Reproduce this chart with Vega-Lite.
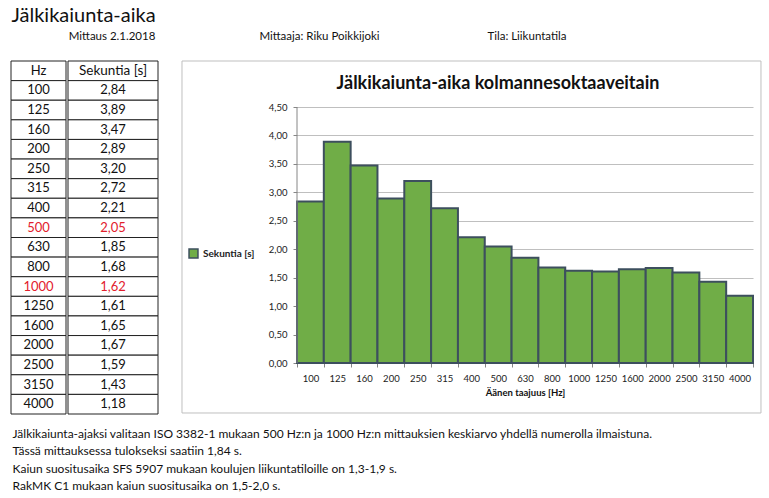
{
  "$schema": "https://vega.github.io/schema/vega-lite/v6.json",
  "padding": {"left": 10, "top": 6, "right": 5, "bottom": 2},
  "background": "white",
  "title": {"text": "Jälkikaiunta-aika", "anchor": "start", "fontSize": 20, "fontWeight": "normal", "color": "#111", "offset": 2, "dx": 1},
  "datasets": {
    "rt": [
      {"f": 100, "s": 2.84}, {"f": 125, "s": 3.89}, {"f": 160, "s": 3.47}, {"f": 200, "s": 2.89},
      {"f": 250, "s": 3.20}, {"f": 315, "s": 2.72}, {"f": 400, "s": 2.21}, {"f": 500, "s": 2.05},
      {"f": 630, "s": 1.85}, {"f": 800, "s": 1.68}, {"f": 1000, "s": 1.62}, {"f": 1250, "s": 1.61},
      {"f": 1600, "s": 1.65}, {"f": 2000, "s": 1.67}, {"f": 2500, "s": 1.59}, {"f": 3150, "s": 1.43},
      {"f": 4000, "s": 1.18}
    ]
  },
  "spacing": 14,
  "resolve": {"legend": {"color": "independent"}},
  "vconcat": [
    {
      "width": 617, "height": 18,
      "data": {"values": [{"t": "Mittaus 2.1.2018"}, {"t": "Mittaaja: Riku Poikkijoki"}, {"t": "Tila: Liikuntatila"}]},
      "mark": {"type": "text", "fontSize": 11.5, "color": "#111", "baseline": "middle"},
      "encoding": {
        "x": {"field": "t", "type": "nominal", "sort": null, "scale": {"type": "point", "padding": 0.487}, "axis": null},
        "text": {"field": "t"}
      }
    },
    {
      "spacing": 22,
      "resolve": {"legend": {"color": "independent"}},
      "title": {
        "text": [
          "Jälkikaiunta-ajaksi valitaan ISO 3382-1 mukaan 500 Hz:n ja 1000 Hz:n mittauksien keskiarvo yhdellä numerolla ilmaistuna.",
          "Tässä mittauksessa tulokseksi saatiin  1,84 s.",
          "Kaiun suositusaika SFS 5907 mukaan koulujen liikuntatiloille on 1,3-1,9 s.",
          "RakMK C1 mukaan kaiun suositusaika on 1,5-2,0 s."
        ],
        "orient": "bottom", "anchor": "start", "fontSize": 12, "fontWeight": "normal", "lineHeight": 17.6, "offset": 14, "dx": 2, "color": "#111"
      },
      "hconcat": [
        {
          "spacing": 0,
          "hconcat": [
            {
              "width": 55, "height": 353,
              "layer": [
                {
                  "data": {"values": [{"c": "Hz"}]},
                  "mark": {"type": "rect", "fill": "white", "stroke": "#222", "strokeWidth": 1},
                  "encoding": {"y": {"datum": "hdr", "type": "nominal", "axis": null, "scale": {"domain": ["hdr", 100, 125, 160, 200, 250, 315, 400, 500, 630, 800, 1000, 1250, 1600, 2000, 2500, 3150, 4000], "paddingInner": 0, "paddingOuter": 0}}}
                },
                {
                  "data": {"values": [{"c": "Hz"}]},
                  "mark": {"type": "text", "fontSize": 13, "color": "#111"},
                  "encoding": {"y": {"datum": "hdr", "type": "nominal", "axis": null}, "text": {"field": "c"}}
                },
                {
                  "data": {"name": "rt"},
                  "mark": {"type": "rect", "fill": "white", "stroke": "#222", "strokeWidth": 1},
                  "encoding": {"y": {"field": "f", "type": "nominal", "axis": null}}
                },
                {
                  "data": {"name": "rt"},
                  "mark": {"type": "text", "fontSize": 13},
                  "encoding": {
                    "y": {"field": "f", "type": "nominal", "axis": null},
                    "text": {"field": "f", "type": "nominal"},
                    "color": {"condition": {"test": "datum.f === 500 || datum.f === 1000", "value": "#E2202C"}, "value": "#111"}
                  }
                }
              ]
            },
            {
              "width": 90, "height": 353,
              "layer": [
                {
                  "data": {"values": [{"c": "Sekuntia [s]"}]},
                  "mark": {"type": "rect", "fill": "white", "stroke": "#222", "strokeWidth": 1},
                  "encoding": {"y": {"datum": "hdr", "type": "nominal", "axis": null, "scale": {"domain": ["hdr", 100, 125, 160, 200, 250, 315, 400, 500, 630, 800, 1000, 1250, 1600, 2000, 2500, 3150, 4000], "paddingInner": 0, "paddingOuter": 0}}}
                },
                {
                  "data": {"values": [{"c": "Sekuntia [s]"}]},
                  "mark": {"type": "text", "fontSize": 13.5, "color": "#111"},
                  "encoding": {"y": {"datum": "hdr", "type": "nominal", "axis": null}, "text": {"field": "c"}}
                },
                {
                  "data": {"name": "rt"},
                  "mark": {"type": "rect", "fill": "white", "stroke": "#222", "strokeWidth": 1},
                  "encoding": {"y": {"field": "f", "type": "nominal", "axis": null}}
                },
                {
                  "data": {"name": "rt"},
                  "mark": {"type": "text", "fontSize": 13},
                  "encoding": {
                    "y": {"field": "f", "type": "nominal", "axis": null},
                    "text": {"field": "s", "type": "quantitative", "format": ".2f"},
                    "color": {"condition": {"test": "datum.f === 500 || datum.f === 1000", "value": "#E2202C"}, "value": "#111"}
                  }
                }
              ]
            }
          ]
        },
        {
          "width": 456, "height": 302,
          "title": {"text": "Jälkikaiunta-aika kolmannesoktaaveitain", "fontSize": 18, "fontWeight": "bold", "color": "#111", "frame": "group", "anchor": "middle", "dx": -27, "offset": -32},
          "resolve": {"scale": {"x": "independent"}},
          "layer": [
            {
              "data": {"name": "rt"},
              "mark": {"type": "bar", "stroke": "#3D4F5E", "strokeWidth": 2, "width": {"band": 1}},
              "encoding": {
                "x": {"field": "f", "type": "ordinal", "scale": {"paddingInner": 0, "paddingOuter": 0},
                      "axis": {"labelAngle": 0, "labelFontSize": 9.5, "labelColor": "#222", "labelPadding": 6, "tickSize": 4, "tickBand": "extent", "domainColor": "#868686", "tickColor": "#868686",
                               "title": "Äänen taajuus [Hz]", "titleFontSize": 9.5, "titleFontWeight": "bold", "titleColor": "#111", "titlePadding": 5}},
                "y": {"field": "s", "type": "quantitative", "scale": {"domain": [0, 5.3086], "nice": false, "zero": true},
                      "axis": {"values": [0, 0.5, 1, 1.5, 2, 2.5, 3, 3.5, 4, 4.5], "format": ".2f", "title": null, "labelFontSize": 9.5, "labelColor": "#222", "labelPadding": 6, "tickSize": 4, "domain": false,
                               "grid": true, "gridColor": "#BFBFBF", "tickColor": "#868686", "labelOverlap": false}},
                "color": {"datum": "Sekuntia [s]", "type": "nominal", "scale": {"range": ["#70AD47"]},
                          "legend": {"title": null, "orient": "none", "legendX": -109, "legendY": 187, "labelFontSize": 10, "labelFontWeight": "bold", "labelColor": "#222",
                                     "symbolType": "square", "symbolSize": 80, "symbolStrokeColor": "#3D4F5E", "symbolStrokeWidth": 1.5}}
              }
            },
            {
              "data": {"values": [{}]},
              "mark": {"type": "rect", "fill": null, "stroke": "#BFBFBF", "strokeWidth": 1},
              "encoding": {
                "x": {"datum": -0.2522, "type": "quantitative", "scale": {"domain": [0, 1], "zero": false, "nice": false}, "axis": null},
                "x2": {"datum": 1.0175},
                "y": {"datum": -0.8789, "type": "quantitative",
                      "axis": {"values": [0, 0.5, 1, 1.5, 2, 2.5, 3, 3.5, 4, 4.5], "format": ".2f", "title": null, "labelFontSize": 9.5, "labelColor": "#222", "labelPadding": 6, "tickSize": 4, "domain": false,
                               "grid": true, "gridColor": "#BFBFBF", "tickColor": "#868686", "labelOverlap": false}},
                "y2": {"datum": 5.3086}
              }
            },
            {
              "data": {"values": [{}]},
              "mark": {"type": "rule", "stroke": "#868686", "strokeWidth": 1},
              "encoding": {
                "x": {"datum": 0, "type": "quantitative", "scale": {"domain": [0, 1], "zero": false, "nice": false}, "axis": null},
                "y": {"datum": 0, "type": "quantitative",
                      "axis": {"values": [0, 0.5, 1, 1.5, 2, 2.5, 3, 3.5, 4, 4.5], "format": ".2f", "title": null, "labelFontSize": 9.5, "labelColor": "#222", "labelPadding": 6, "tickSize": 4, "domain": false,
                               "grid": true, "gridColor": "#BFBFBF", "tickColor": "#868686", "labelOverlap": false}},
                "y2": {"datum": 4.5}
              }
            }
          ]
        }
      ]
    }
  ],
  "config": {
    "font": "Lato",
    "view": {"stroke": null},
    "axis": {"labelFont": "Lato", "titleFont": "Lato"},
    "locale": {"number": {"decimal": ",", "thousands": " ", "grouping": [3], "currency": ["", " €"]}}
  }
}
